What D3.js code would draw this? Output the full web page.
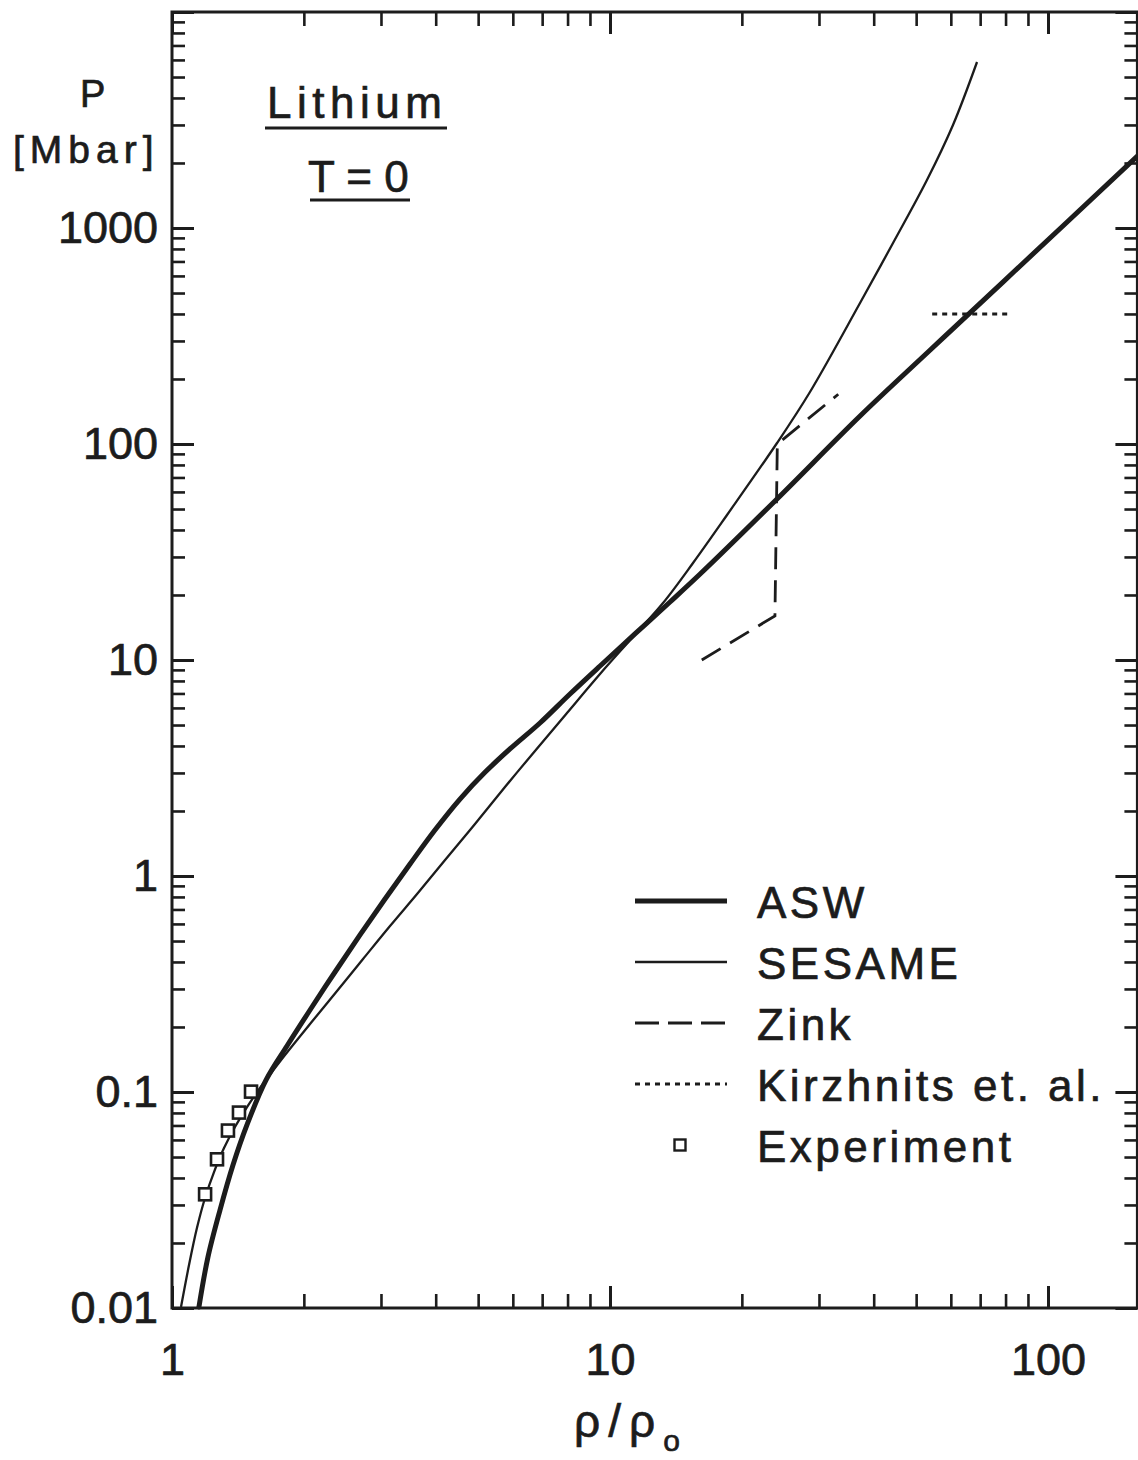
<!DOCTYPE html>
<html>
<head>
<meta charset="utf-8">
<script src="https://cdn.jsdelivr.net/npm/d3@7"></script>
<style>
  html, body { margin: 0; padding: 0; background: #ffffff; }
  svg { display: block; }
</style>
</head>
<body>
<svg id="chart" width="1138" height="1460"></svg>
<script>
// Lithium cold curve, pressure P [Mbar] versus compression rho/rho0

// ASW model
const aswRho = [1.152, 1.208, 1.287, 1.378, 1.483, 1.639, 1.83, 2.066, 2.356, 2.687, 3.064, 3.495, 3.985,
                4.545, 5.183, 5.91, 6.92, 8.103, 9.489, 11.4, 13.71, 16.06, 24.06, 37.23, 52.93, 78.9, 160];
const aswP   = [0.0101, 0.0172, 0.0284, 0.0459, 0.0704, 0.1136, 0.1633, 0.2397, 0.3594, 0.5333, 0.7827,
                1.137, 1.633, 2.272, 3.02, 3.873, 5.109, 6.96, 9.38, 13.2, 18.56, 25.0, 55.67, 134.8,
                263.8, 562, 2150];

// SESAME table
const sesameRho = [1.0485, 1.0935, 1.1404, 1.1895, 1.2471, 1.3145, 1.3924, 1.4832, 1.5884, 1.6918, 1.8113,
                   2.0656, 2.381, 2.7297, 3.1459, 3.6266, 4.2016, 4.9176, 5.7571, 6.7412, 7.9762, 9.4881,
                   11.224, 13.213, 15.471, 18.499, 24.064, 28.612, 37.226, 44.277, 52.924, 60.687, 68.86];
const sesameP   = [0.0101, 0.0158, 0.0235, 0.0323, 0.0426, 0.055, 0.0689, 0.0852, 0.1044, 0.1238, 0.1483,
                   0.2064, 0.2935, 0.4128, 0.5869, 0.8254, 1.1857, 1.7402, 2.5826, 3.7915, 5.6847, 8.6131,
                   12.645, 18.359, 28.125, 46.92, 101.07, 174.1, 449.6, 852.1, 1668, 2999, 5868];

// Zink (with the jump near rho/rho0 = 24)
const zinkRho = [16.2, 23.8, 24.1, 33.2];
const zinkP   = [10, 16, 100, 170];

// Kirzhnits et al.
const kirzRho = [54.4, 81.9];
const kirzP   = [400, 400];

// Experiment
const expRho = [1.19, 1.267, 1.342, 1.422, 1.515];
const expP   = [0.0336, 0.0488, 0.0663, 0.0803, 0.1004];

// Tick labels
const xTickValues = [1, 10, 100];
const xTickLabels = ["1", "10", "100"];
const yTickValues = [0.01, 0.1, 1, 10, 100, 1000];
const yTickLabels = ["0.01", "0.1", "1", "10", "100", "1000"];

// Legend entries
const legendLabels = ["ASW", "SESAME", "Zink", "Kirzhnits et. al.", "Experiment"];

const ink = "#1c1c1c";
const font = "'Liberation Sans', Arial, sans-serif";

const svg = d3.select("#chart");

const plotLeft = 172, plotTop = 12, plotBottom = 1308;
const x = d3.scaleLog().domain([1, 160]).range([plotLeft, plotLeft + 438 * Math.log10(160)]);
const y = d3.scaleLog().domain([0.01, 1e4]).range([plotBottom, plotTop]);
const plotRight = x.range()[1];

const isDecade = v => Math.abs(Math.log10(v) - Math.round(Math.log10(v))) < 1e-9;
const xMajor = x.ticks().filter(isDecade);
const xMinor = x.ticks().filter(v => !isDecade(v));
const yMajor = y.ticks().filter(isDecade);
const yMinor = y.ticks().filter(v => !isDecade(v));

function labelFor(values, labels) {
  return d => {
    const i = values.findIndex(v => Math.abs(v - d) / v < 1e-6);
    return i >= 0 ? labels[i] : "";
  };
}

// Slightly heavier lettering
function letter(sel, size) {
  return sel.attr("fill", ink).attr("stroke", ink).attr("stroke-width", 0.7)
    .style("font-family", font).style("font-size", size + "px");
}

function drawAxis(axis, transform, width) {
  const g = svg.append("g").attr("transform", transform).call(axis);
  g.select(".domain").remove();
  g.selectAll(".tick line").attr("stroke", ink).attr("stroke-width", width);
  letter(g.selectAll(".tick text"), 45);
  return g;
}

// Left axis
drawAxis(d3.axisLeft(y).tickValues(yMajor).tickSizeInner(-22).tickSizeOuter(0).tickPadding(14)
  .tickFormat(labelFor(yTickValues, yTickLabels)), `translate(${plotLeft},0)`, 3);
drawAxis(d3.axisLeft(y).tickValues(yMinor).tickSizeInner(-13).tickSizeOuter(0).tickFormat(""),
  `translate(${plotLeft},0)`, 2.6);
// Right axis
drawAxis(d3.axisRight(y).tickValues(yMajor).tickSizeInner(-22).tickSizeOuter(0).tickFormat(""),
  `translate(${plotRight},0)`, 3);
drawAxis(d3.axisRight(y).tickValues(yMinor).tickSizeInner(-13).tickSizeOuter(0).tickFormat(""),
  `translate(${plotRight},0)`, 2.6);
// Bottom axis
drawAxis(d3.axisBottom(x).tickValues(xMajor).tickSizeInner(-22).tickSizeOuter(0).tickPadding(35)
  .tickFormat(labelFor(xTickValues, xTickLabels)), `translate(0,${plotBottom})`, 3);
drawAxis(d3.axisBottom(x).tickValues(xMinor).tickSizeInner(-14).tickSizeOuter(0).tickFormat(""),
  `translate(0,${plotBottom})`, 2.6);
// Top axis
drawAxis(d3.axisTop(x).tickValues(xMajor).tickSizeInner(-22).tickSizeOuter(0).tickFormat(""),
  `translate(0,${plotTop})`, 3);
drawAxis(d3.axisTop(x).tickValues(xMinor).tickSizeInner(-14).tickSizeOuter(0).tickFormat(""),
  `translate(0,${plotTop})`, 2.6);

// Frame
svg.append("rect")
  .attr("x", plotLeft).attr("y", plotTop)
  .attr("width", plotRight - plotLeft).attr("height", plotBottom - plotTop)
  .attr("fill", "none").attr("stroke", ink).attr("stroke-width", 3);

// Curves
const zip = (a, b) => a.map((v, i) => [v, b[i]]);
const smooth = d3.line().x(d => x(d[0])).y(d => y(d[1])).curve(d3.curveCatmullRom.alpha(0.5));
const straight = d3.line().x(d => x(d[0])).y(d => y(d[1]));

const plot = svg.append("g");

plot.append("path").attr("d", smooth(zip(sesameRho, sesameP)))
  .attr("fill", "none").attr("stroke", ink).attr("stroke-width", 2.3);

plot.append("path").attr("d", smooth(zip(aswRho, aswP)))
  .attr("fill", "none").attr("stroke", ink).attr("stroke-width", 5).attr("stroke-linecap", "round");

plot.append("path").attr("d", straight(zip(zinkRho, zinkP)))
  .attr("fill", "none").attr("stroke", ink).attr("stroke-width", 2.8)
  .attr("stroke-dasharray", "22,11");

plot.append("path").attr("d", straight(zip(kirzRho, kirzP)))
  .attr("fill", "none").attr("stroke", ink).attr("stroke-width", 3)
  .attr("stroke-dasharray", "5,5");

const sq = 12;
plot.selectAll("rect.exp").data(zip(expRho, expP)).join("rect")
  .attr("class", "exp")
  .attr("x", d => x(d[0]) - sq / 2).attr("y", d => y(d[1]) - sq / 2)
  .attr("width", sq).attr("height", sq)
  .attr("fill", "#ffffff").attr("stroke", ink).attr("stroke-width", 2.6);

// Axis titles
letter(svg.append("text").attr("x", 80).attr("y", 107).text("P"), 38);
letter(svg.append("text").attr("x", 13).attr("y", 163).text("[Mbar]"), 39).style("letter-spacing", "6px");

const xt = letter(svg.append("text").attr("x", 574).attr("y", 1437), 46);
xt.append("tspan").text("ρ/ρ").style("letter-spacing", "8px");
xt.append("tspan").text("o").attr("dy", 14).style("font-size", "30px");

// Title block
letter(svg.append("text").attr("x", 267).attr("y", 118).text("Lithium"), 44).style("letter-spacing", "5.5px");
svg.append("line").attr("x1", 265).attr("x2", 447).attr("y1", 128).attr("y2", 128)
  .attr("stroke", ink).attr("stroke-width", 3);
letter(svg.append("text").attr("x", 308).attr("y", 192).text("T = 0"), 44).style("letter-spacing", "0px");
svg.append("line").attr("x1", 310).attr("x2", 410).attr("y1", 200).attr("y2", 200)
  .attr("stroke", ink).attr("stroke-width", 3);

// Legend
const legendStyles = [
  { w: 5, dash: null },
  { w: 2.3, dash: null },
  { w: 2.8, dash: "24,9" },
  { w: 3, dash: "5,5" },
  { square: true }
];
const legend = svg.append("g");
legendLabels.forEach((label, i) => {
  const base = 918 + i * 61;
  const cy = base - 17;
  const st = legendStyles[i];
  if (st.square) {
    legend.append("rect").attr("x", 680 - 5.5).attr("y", cy - 5.5).attr("width", 11).attr("height", 11)
      .attr("fill", "#ffffff").attr("stroke", ink).attr("stroke-width", 2.4);
  } else {
    const ln = legend.append("line").attr("x1", 635).attr("x2", 727).attr("y1", cy).attr("y2", cy)
      .attr("stroke", ink).attr("stroke-width", st.w);
    if (st.dash) ln.attr("stroke-dasharray", st.dash);
  }
  letter(legend.append("text").attr("x", 757).attr("y", base).text(label), 44).style("letter-spacing", "3.5px");
});
</script>
</body>
</html>
